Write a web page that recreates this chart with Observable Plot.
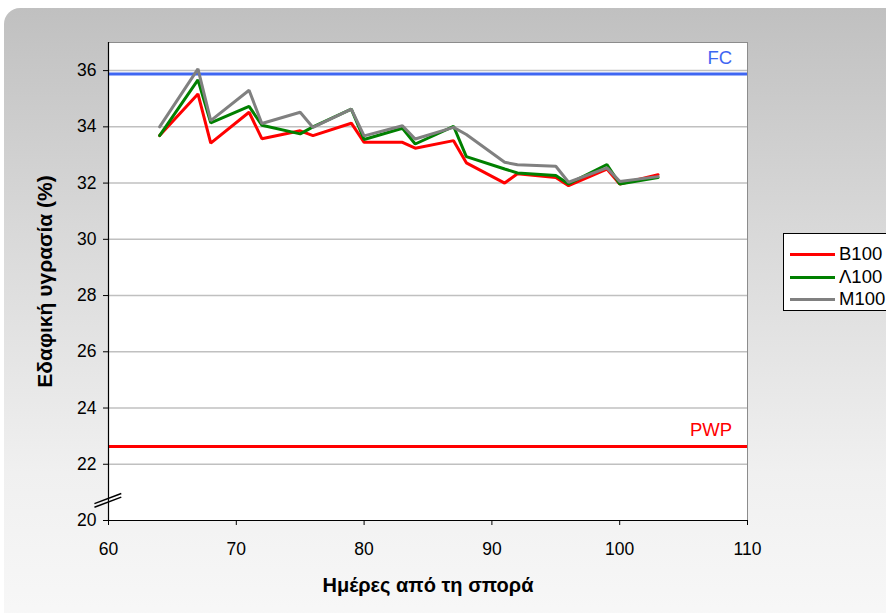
<!DOCTYPE html>
<html>
<head>
<meta charset="utf-8">
<script src="https://cdn.jsdelivr.net/npm/d3@7"></script>
<script src="https://cdn.jsdelivr.net/npm/@observablehq/plot@0.6"></script>
<style>
  html, body { margin: 0; padding: 0; background: #ffffff; width: 886px; height: 613px; overflow: hidden; }
  #wrap { position: relative; width: 886px; height: 613px; font-family: "Liberation Sans", Arial, sans-serif; }
  #panel { position: absolute; left: 4px; top: 8px; width: 900px; height: 620px; border-radius: 16px;
           background: linear-gradient(to bottom, #c0c0c0 0%, #d8d8d8 35%, #f0f0f0 75%, #f8f8f8 100%); }
  #chart { position: absolute; left: 0; top: 0; }
  #legend { position: absolute; left: 783px; top: 233px; width: 120px; height: 76px; background: #fff;
            border: 1px solid #000; font-size: 18.5px; color: #000; }
  .item { position: absolute; left: 6px; height: 22px; display: flex; align-items: center; }
  .sw { width: 45px; height: 3px; margin-right: 4px; }
</style>
</head>
<body>
<div id="wrap">
  <div id="panel"></div>
  <div id="chart"></div>
  <div id="legend"></div>
</div>
<script>
const days = [64, 67, 68, 71, 72, 75, 76, 79, 80, 83, 84, 87, 88, 91, 92, 95, 96, 99, 100, 103];
const b100 = [33.69, 35.17, 33.42, 34.52, 33.58, 33.86, 33.69, 34.13, 33.45, 33.45, 33.24, 33.51, 32.72, 32.00, 32.33, 32.20, 31.91, 32.50, 31.97, 32.30];
const l100 = [33.69, 35.67, 34.14, 34.73, 34.06, 33.75, 34.00, 34.63, 33.55, 33.95, 33.39, 34.02, 32.94, 32.50, 32.36, 32.27, 31.97, 32.66, 31.97, 32.20];
const m100 = [34.00, 36.06, 34.22, 35.30, 34.12, 34.52, 33.98, 34.63, 33.68, 34.04, 33.57, 33.98, 33.73, 32.74, 32.65, 32.60, 32.03, 32.54, 32.06, 32.23];
const seriesNames = ["B100", "Λ100", "M100"];
const seriesColors = ["#ff0000", "#008000", "#808080"];
const fcValue = 35.88;
const pwpValue = 22.63;
const xTicks = [60, 70, 80, 90, 100, 110];
const yTicks = [20, 22, 24, 26, 28, 30, 32, 34, 36];
const gridTicks = [22, 24, 26, 28, 30, 32, 34, 36];
const xTitle = "Ημέρες από τη σπορά";
const yTitle = "Εδαφική υγρασία (%)";

const seriesValues = [b100, l100, m100];
const rows = [];
seriesNames.forEach((name, i) => {
  days.forEach((d, j) => rows.push({series: name, day: d, value: seriesValues[i][j]}));
});

// break mark (decoration on y axis)
const breakMark = [
  {x1: 58.9, y1: 20.60, x2: 61.0, y2: 20.96},
  {x1: 58.9, y1: 20.47, x2: 61.0, y2: 20.83}
];

const font = "'Liberation Sans', Arial, sans-serif";

const chart = Plot.plot({
  width: 886,
  height: 613,
  marginLeft: 108,
  marginRight: 139,
  marginTop: 42,
  marginBottom: 93,
  style: {background: "transparent", fontFamily: font, fontSize: "17px", color: "#000", overflow: "visible"},
  x: {domain: [60, 110]},
  y: {domain: [20, 37]},
  color: {domain: seriesNames, range: seriesColors},
  marks: [
    Plot.frame({fill: "#ffffff", stroke: "#8c8c8c", strokeWidth: 1}),
    Plot.ruleY(gridTicks, {stroke: "#c0c0c0", strokeWidth: 1.5}),
    Plot.ruleY([fcValue], {stroke: "#3f66f2", strokeWidth: 3}),
    Plot.ruleY([pwpValue], {stroke: "#ff0000", strokeWidth: 3}),
    Plot.text(["FC"], {x: 108.8, y: fcValue, dy: -16, textAnchor: "end", fill: "#3f66f2", fontSize: 18.5}),
    Plot.text(["PWP"], {x: 108.8, y: pwpValue, dy: -16, textAnchor: "end", fill: "#ff0000", fontSize: 18.5}),
    Plot.line(rows, {x: "day", y: "value", z: "series", stroke: "series", strokeWidth: 3, strokeLinejoin: "miter"}),
    Plot.ruleX([60], {stroke: "#000", strokeWidth: 1.2}),
    Plot.ruleY([20], {stroke: "#000", strokeWidth: 1.2}),
    Plot.axisX({ticks: xTicks, tickSize: 5, tickPadding: 17, label: null, fontSize: 17.5}),
    Plot.axisY({ticks: yTicks, tickSize: 5, tickPadding: 7, label: null, fontSize: 17.5}),
    Plot.link(breakMark, {x1: "x1", y1: "y1", x2: "x2", y2: "y2", stroke: "#000", strokeWidth: 1.5, clip: false}),
    Plot.text([xTitle], {frameAnchor: "bottom", dy: 65, textAnchor: "middle", lineAnchor: "middle", fontWeight: "bold", fontSize: 20}),
    Plot.text([yTitle], {frameAnchor: "left", dx: -63, textAnchor: "middle", lineAnchor: "middle", rotate: -90, fontWeight: "bold", fontSize: 21})
  ]
});
document.getElementById("chart").appendChild(chart);

// legend
const legend = document.getElementById("legend");
const tops = [9, 32, 54];
seriesNames.forEach((name, i) => {
  const item = document.createElement("div");
  item.className = "item";
  item.style.top = tops[i] + "px";
  const sw = document.createElement("div");
  sw.className = "sw";
  sw.style.background = seriesColors[i];
  item.appendChild(sw);
  const t = document.createElement("span");
  t.textContent = name;
  item.appendChild(t);
  legend.appendChild(item);
});
</script>
</body>
</html>
